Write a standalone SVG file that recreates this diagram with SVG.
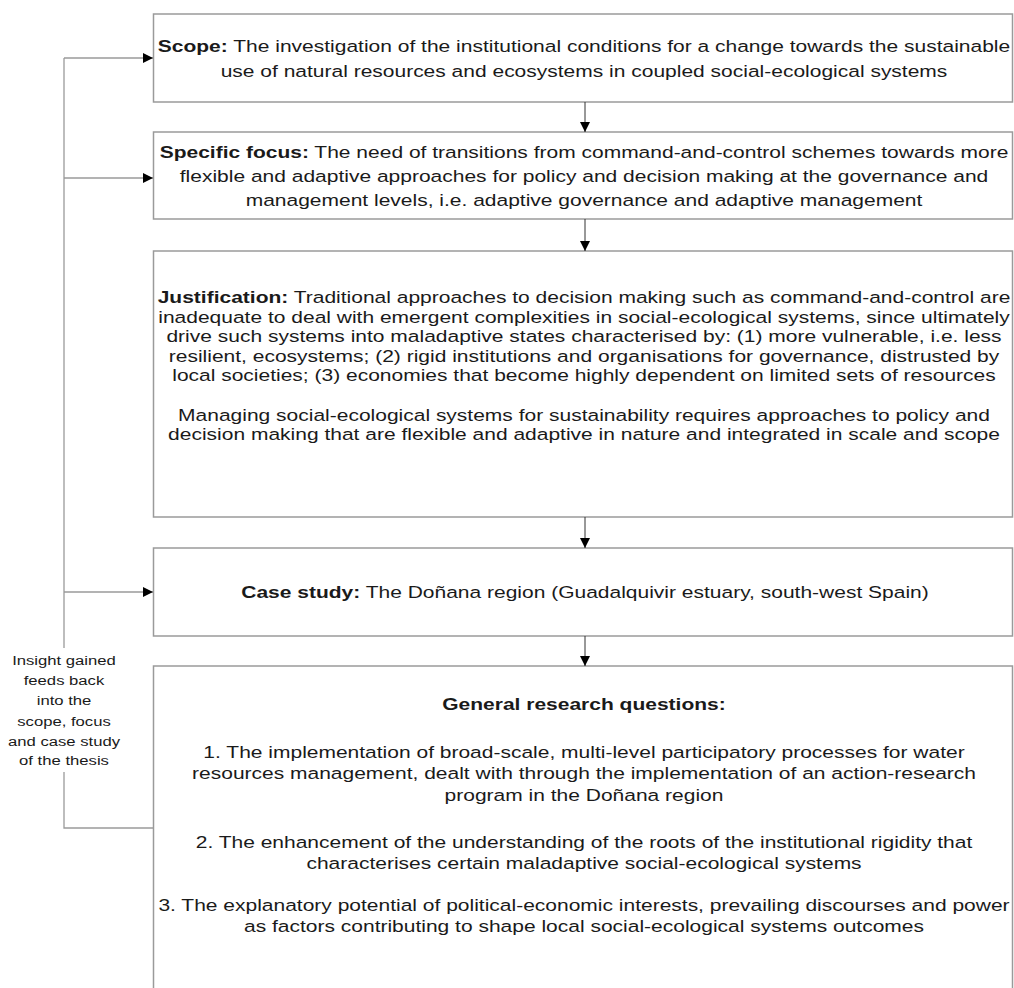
<svg xmlns="http://www.w3.org/2000/svg" width="1014" height="988" viewBox="0 0 1014 988">
<style>
.box{fill:#fff;stroke:#9a9a9a;stroke-width:1.5}
.t{font-family:"Liberation Sans",Arial,sans-serif;font-size:17px;fill:#1a1a1a;text-anchor:middle}
.s{font-family:"Liberation Sans",Arial,sans-serif;font-size:13.5px;fill:#1a1a1a;text-anchor:middle}
.b{font-weight:bold}
.con{fill:none;stroke:#333;stroke-width:1}
.fb{fill:none;stroke:#9a9a9a;stroke-width:1.3}
</style>
<defs>
<marker id="ah" viewBox="0 0 10 10" refX="10" refY="5" markerWidth="10" markerHeight="10" markerUnits="userSpaceOnUse" orient="auto">
<path d="M0,0 L10,5 L0,10 Z" fill="#000"/>
</marker>
</defs>
<rect width="1014" height="988" fill="#fff"/>
<g id="scope">
<rect class="box" x="153.5" y="14" width="859" height="88"/>
<g transform="translate(584,0) scale(1.235,1)">
<text class="t" x="0" y="52"><tspan class="b">Scope:</tspan> The investigation of the institutional conditions for a change towards the sustainable</text>
<text class="t" x="0" y="77">use of natural resources and ecosystems in coupled social-ecological systems</text>
</g>
</g>
<g id="focus">
<rect class="box" x="153.5" y="132" width="859" height="87"/>
<g transform="translate(584,0) scale(1.235,1)">
<text class="t" x="0" y="158"><tspan class="b">Specific focus:</tspan> The need of transitions from command-and-control schemes towards more</text>
<text class="t" x="0" y="182">flexible and adaptive approaches for policy and decision making at the governance and</text>
<text class="t" x="0" y="206">management levels, i.e. adaptive governance and adaptive management</text>
</g>
</g>
<g id="justification">
<rect class="box" x="153.5" y="251" width="859" height="266"/>
<g transform="translate(584,0) scale(1.235,1)">
<text class="t" x="0" y="303"><tspan class="b">Justification:</tspan> Traditional approaches to decision making such as command-and-control are</text>
<text class="t" x="0" y="323">inadequate to deal with emergent complexities in social-ecological systems, since ultimately</text>
<text class="t" x="0" y="342">drive such systems into maladaptive states characterised by: (1) more vulnerable, i.e. less</text>
<text class="t" x="0" y="362">resilient, ecosystems; (2) rigid institutions and organisations for governance, distrusted by</text>
<text class="t" x="0" y="381">local societies; (3) economies that become highly dependent on limited sets of resources</text>
<text class="t" x="0" y="421">Managing social-ecological systems for sustainability requires approaches to policy and</text>
<text class="t" x="0" y="440">decision making that are flexible and adaptive in nature and integrated in scale and scope</text>
</g>
</g>
<g id="case">
<rect class="box" x="153.5" y="548" width="859" height="88"/>
<g transform="translate(585,0) scale(1.235,1)">
<text class="t" x="0" y="598"><tspan class="b">Case study:</tspan> The Doñana region (Guadalquivir estuary, south-west Spain)</text>
</g>
</g>
<g id="questions">
<path class="box" d="M153.5,990 V666 H1012.5 V990"/>
<g transform="translate(584,0) scale(1.235,1)">
<text class="t b" x="0" y="710">General research questions:</text>
<text class="t" x="0" y="758">1. The implementation of broad-scale, multi-level participatory processes for water</text>
<text class="t" x="0" y="779">resources management, dealt with through the implementation of an action-research</text>
<text class="t" x="0" y="801">program in the Doñana region</text>
<text class="t" x="0" y="848">2. The enhancement of the understanding of the roots of the institutional rigidity that</text>
<text class="t" x="0" y="869">characterises certain maladaptive social-ecological systems</text>
<text class="t" x="0" y="911">3. The explanatory potential of political-economic interests, prevailing discourses and power</text>
<text class="t" x="0" y="932">as factors contributing to shape local social-ecological systems outcomes</text>
</g>
</g>
<g id="feedback-label" transform="translate(64,0) scale(1.235,1)">
<text class="s" x="0" y="665">Insight gained</text>
<text class="s" x="0" y="685">feeds back</text>
<text class="s" x="0" y="705">into the</text>
<text class="s" x="0" y="726">scope, focus</text>
<text class="s" x="0" y="746">and case study</text>
<text class="s" x="0" y="765">of the thesis</text>
</g>
<g id="connectors">
<line class="con" x1="585" y1="102" x2="585" y2="132" marker-end="url(#ah)"/>
<line class="con" x1="585" y1="219" x2="585" y2="251" marker-end="url(#ah)"/>
<line class="con" x1="585" y1="517" x2="585" y2="548" marker-end="url(#ah)"/>
<line class="con" x1="585" y1="636" x2="585" y2="666" marker-end="url(#ah)"/>
<path class="fb" d="M64,648 V58"/>
<path class="fb" d="M153.5,828 H64 V772"/>
<line class="fb" x1="64" y1="58" x2="153" y2="58" marker-end="url(#ah)"/>
<line class="fb" x1="64" y1="178" x2="153" y2="178" marker-end="url(#ah)"/>
<line class="fb" x1="64" y1="592" x2="153" y2="592" marker-end="url(#ah)"/>
</g>
</svg>
